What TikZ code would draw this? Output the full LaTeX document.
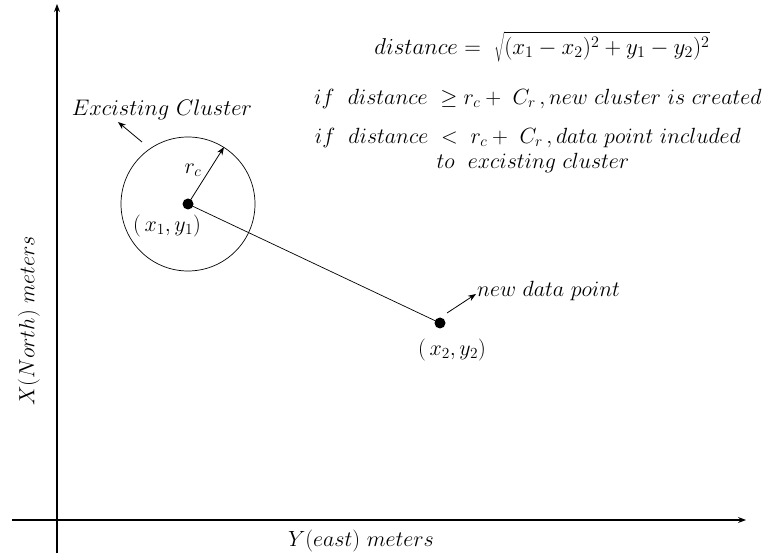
\RequirePackage{fix-cm}
\documentclass[tikz,border=0pt]{standalone}
\usetikzlibrary{arrows.meta}
\begin{document}
\begin{tikzpicture}[x=1pt,y=-1pt,
  lbl/.style={inner sep=0pt,font=\fontsize{22}{25}\selectfont},
  axis/.style={line width=1.1pt,-{Stealth[length=8pt,width=6pt]}},
  thin/.style={line width=0.7pt},
  pointer/.style={line width=0.8pt,-{Stealth[length=8pt,width=6pt]}},
  dot/.style={circle,fill=black,inner sep=0pt,minimum size=11pt}]
\useasboundingbox (0,0) rectangle (764,556);
% axes
\coordinate (vb) at (57,553);
\coordinate (vt) at (57,4);
\coordinate (hl) at (12,520);
\coordinate (hr) at (746,520);
\draw[axis] (vb) -- (vt);
\draw[axis] (hl) -- (hr);
\node[lbl,rotate=90] (xlab) at (29,321) {$X(North)\ meters$};
\node[lbl] (ylab) at (361,541) {$Y(east)\ meters$};
% cluster
\node[dot] (c1) at (188,204) {};
\node[circle,draw,thin,minimum size=134pt,inner sep=0pt] (clu) at (188,204) {};
\coordinate (rc) at (224,147);
\draw[pointer] (c1.center) -- (rc);
\node[lbl] (rclab) at (193,170) {$r_c$};
\node[lbl] (p1) at (167,226) {$(\,x_1,y_1)$};
\coordinate (ea) at (142,142);
\coordinate (eb) at (118,122);
\draw[pointer] (ea) -- (eb);
\node[lbl,font=\fontsize{22.5}{25}\selectfont] (exlab) at (162,110) {$Excisting\ Cluster$};
% new point
\node[dot] (c2) at (440,323) {};
\draw[thin] (c1.center) -- (c2.center);
\node[lbl] (p2) at (452,350) {$(\,x_2,y_2)$};
\coordinate (na) at (447,313);
\coordinate (nb) at (476,294);
\draw[pointer] (na) -- (nb);
\node[lbl,anchor=west] (nlab) at (477,291) {$new\ data\ point$};
% formulas
\node[lbl,font=\fontsize{23}{26}\selectfont] (f1) at (542,47) {$distance=\ \sqrt{\vphantom{(^2}(x_1-x_2)^2+y_1-y_2)^2}$};
\node[lbl] (f2) at (538,99) {$if\ \ distance\ \geq r_c+\ C_r\,,new\ cluster\ is\ created$};
\node[lbl] (f3) at (528,138) {$if\ \ distance\ <\ r_c+\ C_r\,,data\ point\ included$};
\node[lbl] (f4) at (533,163) {$to\ \ excisting\ cluster$};
\end{tikzpicture}
\end{document}
